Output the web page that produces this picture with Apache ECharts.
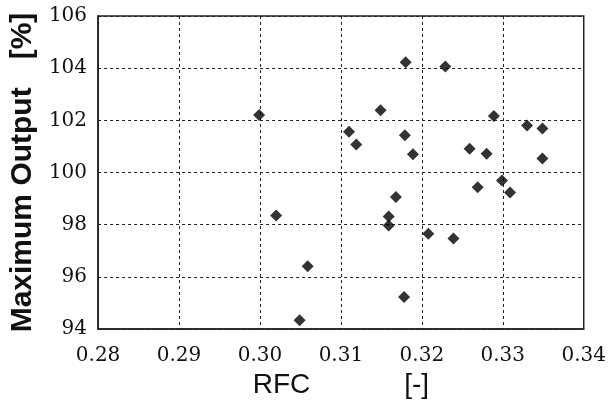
<!DOCTYPE html>
<html>
<head>
<meta charset="utf-8">
<script src="https://cdn.jsdelivr.net/npm/echarts@6/dist/echarts.min.js"></script>
<style>
  html, body { margin: 0; padding: 0; background: #fff; }
  #chart { width: 609px; height: 411px; }
</style>
</head>
<body>
<div id="chart"></div>
<script>
// RFC values [-]
var rfc = [
    0.3180, 0.3229, 0.3149, 0.3289, 0.3330, 0.3349, 0.3110, 0.3179, 0.3119,
    0.3259, 0.3280, 0.3189, 0.3349, 0.3299, 0.3269, 0.3309, 0.3168, 0.3159,
    0.3159, 0.3208, 0.3239, 0.3178, 0.2999, 0.3020, 0.3059, 0.3049
];
// Maximum output values [%]
var maxOutput = [
    104.23, 104.06, 102.39, 102.17, 101.80, 101.69, 101.56, 101.43, 101.07,
    100.91, 100.72, 100.70, 100.54, 99.69, 99.43, 99.23, 99.06, 98.31,
    97.97, 97.65, 97.47, 95.23, 102.20, 98.35, 96.41, 94.34
];

var xMin = 0.28, xMax = 0.34, xStep = 0.01;
var yMin = 94, yMax = 106, yStep = 2;

var points = rfc.map(function (x, i) { return [x, maxOutput[i]]; });

var serif = '"DejaVu Serif", "Liberation Serif", serif';
var sans = '"Liberation Sans", Arial, sans-serif';
var ink = '#111';

var chart = echarts.init(document.getElementById('chart'));
chart.setOption({
    animation: false,
    backgroundColor: '#fff',
    grid: {
        left: 97, right: 24, top: 16, bottom: 82,
        show: true, borderColor: '#222', borderWidth: 1.5
    },
    xAxis: {
        type: 'value',
        min: xMin, max: xMax, interval: xStep,
        name: 'RFC{g|}[-]',
        nameLocation: 'middle',
        nameGap: 38,
        nameTextStyle: {
            color: ink, fontFamily: sans, fontSize: 28,
            rich: { g: { width: 94 } }
        },
        axisLine: { show: true, lineStyle: { color: '#222', width: 1.5 } },
        axisTick: { show: false },
        axisLabel: {
            color: ink, fontFamily: serif, fontSize: 20, margin: 17,
            formatter: function (v) { return v.toFixed(2); }
        },
        splitLine: { show: true, lineStyle: { color: '#222', type: [3, 3], width: 1 } }
    },
    yAxis: {
        type: 'value',
        min: yMin, max: yMax, interval: yStep,
        name: 'Maximum Output{g|}[%]',
        nameLocation: 'middle',
        nameGap: 60,
        nameRotate: 90,
        nameTextStyle: {
            color: ink, fontFamily: sans, fontSize: 30, fontWeight: 'bold',
            rich: { g: { width: 28 } }
        },
        axisLine: { show: true, lineStyle: { color: '#222', width: 1.5 } },
        axisTick: { show: false },
        axisLabel: { color: ink, fontFamily: serif, fontSize: 20, margin: 11 },
        splitLine: { show: true, lineStyle: { color: '#222', type: [3, 3], width: 1 } }
    },
    series: [{
        type: 'scatter',
        data: points,
        symbol: 'diamond',
        symbolSize: 12,
        itemStyle: { color: '#000' }
    }]
});
</script>
</body>
</html>
